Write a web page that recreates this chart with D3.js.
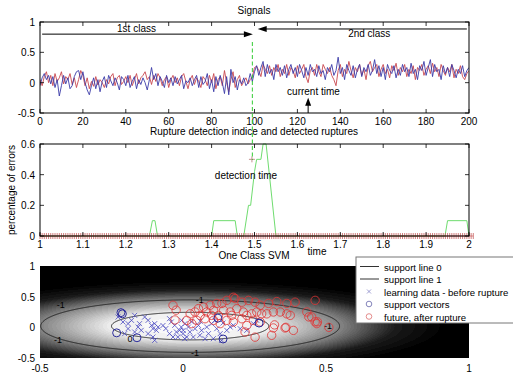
<!DOCTYPE html>
<html>
<head>
<meta charset="utf-8">
<script src="https://cdn.jsdelivr.net/npm/d3@7/dist/d3.min.js"></script>
<style>
	body { margin: 0; background: #fff; }
	text { font-family: "Liberation Sans", Arial, sans-serif; font-size: 10px; fill: #000; }
</style>
</head>
<body>
<svg id="chart" width="513" height="376"></svg>
<script>
// --- signals panel (one value per time step, 0..200)
const signalBlue = [
	-0.05, 0.08, 0.15, 0.05, 0.12, -0.02, 0.1, -0.08, 0.05, -0.22,
	-0.05, 0.12, -0.02, 0.08, -0.1, -0.05, 0.1, 0.18, 0.2, 0.05,
	0.18, 0.0, -0.12, -0.2, -0.05, 0.08, -0.1, 0.05, -0.15, 0.02,
	0.1, -0.08, 0.12, 0.03, -0.05, 0.08, 0.0, -0.12, 0.1, 0.05,
	-0.05, 0.12, -0.08, 0.02, 0.1, -0.1, 0.05, -0.03, 0.08, 0.0,
	-0.12, 0.05, 0.25, 0.05, 0.15, -0.05, 0.1, 0.02, -0.08, 0.12,
	0.0, 0.08, -0.05, 0.1, -0.02, 0.05, 0.12, -0.1, 0.03, 0.0,
	0.08, -0.05, 0.05, 0.12, -0.08, 0.1, -0.03, 0.02, 0.15, -0.1,
	0.05, -0.15, 0.1, -0.05, 0.12, 0.0, -0.18, 0.1, -0.2, 0.22,
	0.0, 0.1, -0.12, 0.05, -0.02, 0.08, -0.05, 0.0, 0.15, 0.02,
	0.18, 0.28, 0.12, 0.25, 0.35, 0.1, 0.3, 0.15, 0.22, 0.05,
	0.3, 0.18, 0.25, 0.12, 0.28, 0.08, 0.22, 0.3, 0.15, 0.25,
	0.1, 0.3, 0.2, 0.08, 0.25, 0.12, 0.3, 0.18, 0.22, 0.1,
	0.28, 0.15, 0.2, 0.05, 0.25, 0.18, 0.3, 0.12, 0.2, 0.42,
	0.15, 0.25, 0.05, 0.3, 0.2, 0.12, 0.28, 0.08, 0.22, 0.3,
	0.1, 0.25, 0.18, 0.3, 0.12, 0.2, 0.38, 0.15, 0.28, 0.1,
	0.25, 0.05, 0.3, 0.2, 0.15, 0.28, 0.08, 0.22, 0.12, 0.3,
	0.18, 0.25, 0.1, 0.32, 0.15, 0.22, 0.05, 0.28, 0.2, 0.35,
	0.12, 0.25, 0.38, 0.1, 0.3, 0.18, 0.22, 0.05, 0.28, 0.15,
	0.25, 0.1, 0.3, 0.2, 0.08, 0.22, 0.15, 0.28, 0.1, 0.2, 0.25
];
const signalRed = [
	0.05, -0.05, 0.1, 0.18, 0.0, 0.12, -0.05, 0.15, 0.02, 0.08,
	0.18, -0.02, 0.1, 0.05, 0.15, -0.03, 0.08, -0.08, 0.05, 0.2,
	0.12, -0.05, 0.08, -0.1, 0.02, -0.06, 0.1, -0.04, 0.05, 0.0,
	-0.08, 0.05, -0.02, 0.1, 0.15, -0.05, 0.08, 0.12, -0.03, 0.02,
	0.1, 0.0, 0.12, -0.05, 0.05, 0.15, -0.02, 0.08, 0.12, 0.18,
	0.05, 0.1, -0.03, 0.12, 0.02, 0.15, 0.08, -0.05, 0.05, 0.1,
	-0.08, 0.05, 0.12, 0.0, 0.08, -0.05, 0.1, 0.15, 0.02, -0.1,
	0.05, 0.12, -0.03, 0.08, 0.02, -0.08, 0.1, 0.05, -0.05, 0.12,
	0.0, 0.15, -0.1, 0.05, 0.1, -0.05, 0.2, 0.0, -0.15, 0.05,
	0.18, -0.08, 0.05, 0.12, -0.05, 0.02, 0.08, -0.02, 0.05, 0.1,
	0.25, 0.27, 0.2, 0.1, 0.3, 0.22, 0.15, 0.28, 0.12, 0.25,
	0.18, 0.3, 0.1, 0.22, 0.15, 0.3, 0.12, 0.25, 0.2, 0.08,
	0.28, 0.15, 0.22, 0.3, 0.1, 0.0, 0.2, 0.25, 0.12, 0.3,
	0.18, 0.1, 0.3, 0.22, 0.15, 0.25, 0.12, 0.05, -0.05, 0.2,
	0.3, 0.1, 0.22, 0.15, 0.35, 0.2, 0.08, 0.25, 0.18, 0.3,
	0.12, 0.22, 0.05, 0.28, 0.35, 0.18, 0.25, 0.3, 0.1, 0.22,
	0.3, 0.15, 0.22, 0.08, 0.28, 0.2, 0.32, 0.12, 0.25, 0.18,
	0.3, 0.1, 0.22, 0.15, 0.28, 0.05, 0.25, 0.2, 0.3, 0.12,
	0.22, 0.28, 0.15, 0.32, 0.18, 0.25, 0.1, 0.3, 0.2, 0.12,
	0.25, 0.18, 0.3, 0.08, 0.22, 0.15, 0.28, 0.1, 0.05, 0.15, 0.2
];
const signalTicksX = [0, 20, 40, 60, 80, 100, 120, 140, 160, 180, 200];
const signalTicksY = [-0.5, 0, 0.5, 1];
const ruptureTime = 99;      // green dashed line (signal time)
const currentTime = 125;

// --- rupture detection panel
const errorCurve = [
	[1, 0], [1.255, 0], [1.262, 0.1], [1.268, 0.1], [1.274, 0],
	[1.40, 0], [1.405, 0.1], [1.455, 0.1], [1.46, 0], [1.475, 0],
	[1.486, 0.2], [1.491, 0.2], [1.50, 0.42], [1.505, 0.5], [1.515, 0.5],
	[1.52, 0.6], [1.527, 0.6], [1.55, 0], [1.944, 0], [1.95, 0.1],
	[1.995, 0.1], [2.0, 0]
];
const detectionPoint = [1.494, 0.5];
const errorTicksX = [1, 1.1, 1.2, 1.3, 1.4, 1.5, 1.6, 1.7, 1.8, 1.9, 2];
const errorTicksY = [0, 0.2, 0.4, 0.6];

// --- one class SVM panel
const learningData = [
	[-0.227, 0.168], [-0.21, 0.087], [-0.192, 0.06], [-0.169, 0.195], [-0.18, 0.114],
	[-0.152, 0.06], [-0.134, 0.168], [-0.122, 0.114], [-0.11, 0.032], [-0.105, -0.022],
	[-0.093, -0.049], [-0.087, 0.005], [-0.099, 0.06], [-0.157, 0.005], [-0.146, -0.049],
	[-0.169, -0.076], [-0.192, -0.022], [-0.122, -0.103], [-0.105, -0.158], [-0.204, -0.103],
	[-0.047, 0.141], [-0.041, 0.087], [-0.029, 0.032], [-0.023, -0.076], [-0.012, -0.049],
	[-0.006, 0.005], [0.0, -0.103], [-0.018, -0.158], [0.006, -0.185], [-0.035, -0.158],
	[-0.047, -0.103], [-0.099, -0.212], [-0.005, 0.114], [0.007, 0.06], [0.019, 0.005],
	[0.001, -0.049], [0.024, -0.076], [0.042, -0.022], [0.054, 0.032], [0.065, -0.049],
	[0.083, 0.005], [0.1, 0.06], [0.112, 0.114], [0.118, -0.022], [0.089, -0.103],
	[0.059, -0.13], [0.036, -0.158], [0.013, -0.158], [0.13, -0.103], [0.153, -0.049],
	[0.165, 0.005], [0.176, 0.032], [0.2, -0.022], [0.223, -0.049], [0.246, 0.06],
	[0.258, 0.114], [0.135, -0.212], [0.077, -0.185], [0.106, -0.185], [-0.07, 0.03],
	[0.03, 0.09], [0.14, 0.07], [-0.06, -0.02], [0.06, 0.1]
];
const supportVectors = [
	[-0.217, 0.24], [-0.212, 0.22], [-0.232, -0.09], [-0.161, -0.17],
	[0.14, -0.19], [0.266, 0.07], [0.122, 0.15]
];
const futureData = [
	[0.462, 0.44], [0.433, 0.25], [0.45, 0.17], [0.462, 0.09], [0.468, 0.06],
	[0.392, 0.41], [0.363, 0.39], [0.328, 0.42], [0.299, 0.39], [0.27, 0.36],
	[0.252, 0.41], [0.229, 0.44], [0.206, 0.41], [0.182, 0.47], [0.176, 0.49],
	[0.153, 0.44], [0.136, 0.39], [0.118, 0.39], [0.095, 0.36], [0.072, 0.33],
	[0.054, 0.305], [0.042, 0.25], [0.025, 0.22], [0.06, 0.195], [0.083, 0.25],
	[0.107, 0.277], [0.142, 0.277], [0.165, 0.25], [0.188, 0.304], [0.211, 0.25],
	[0.223, 0.195], [0.24, 0.22], [0.258, 0.25], [0.275, 0.22], [0.293, 0.22],
	[0.316, 0.25], [0.34, 0.25], [0.363, 0.22], [0.375, 0.195], [0.316, -0.01],
	[0.357, -0.01], [0.386, -0.05], [0.252, -0.16], [0.217, -0.076], [0.223, 0.03],
	[0.176, 0.087], [0.153, 0.114], [0.13, 0.06], [0.107, 0.114], [0.077, 0.14],
	[0.048, 0.114], [0.031, 0.06], [0.013, 0.114], [0.27, 0.087], [0.246, 0.114],
	[0.206, 0.14], [0.17, 0.195], [0.124, 0.195], [0.1, 0.195], [-0.035, 0.36],
	[-0.024, 0.28], [-0.028, 0.12], [0.44, 0.17], [0.47, 0.09], [0.51, 0.0],
	[0.32, 0.04], [0.36, 0.0], [0.31, -0.13]
];
const contourLabels = [
	[-0.427, 0.38, '-1'], [-0.437, -0.19, '-1'], [0.059, 0.46, '-1'],
	[0.042, -0.40, '-1'], [0.507, 0.04, '-1'], [-0.185, -0.175, '0']
];
const svmTicks = [-0.5, 0, 0.5, 1];
const svmTicksY = [-0.5, 0, 0.5, 1];
const legendItems = ['support line 0', 'support line 1', 'learning data - before rupture', 'support vectors', 'future, after rupture'];

// kernel decision field (elliptic gaussian fitted to the picture)
const fieldCenter = [0.025, 0.02];
const fieldAxes = [0.275, 0.225];

const svg = d3.select('#chart');
const tick = 4;

function frame(g, x, y, xTicks, yTicks, fmtX, fmtY) {
	const [x0, x1] = x.range();
	const [y0, y1] = y.range(); // bottom, top
	g.append('rect')
		.attr('x', x0).attr('y', y1)
		.attr('width', x1 - x0).attr('height', y0 - y1)
		.attr('fill', 'none').attr('stroke', '#000').attr('stroke-width', 1);
	const tg = g.append('g').attr('stroke', '#000').attr('stroke-width', 0.8);
	xTicks.forEach(t => {
		tg.append('line').attr('x1', x(t)).attr('x2', x(t)).attr('y1', y0).attr('y2', y0 - tick);
		tg.append('line').attr('x1', x(t)).attr('x2', x(t)).attr('y1', y1).attr('y2', y1 + tick);
	});
	yTicks.forEach(t => {
		tg.append('line').attr('x1', x0).attr('x2', x0 + tick).attr('y1', y(t)).attr('y2', y(t));
		tg.append('line').attr('x1', x1).attr('x2', x1 - tick).attr('y1', y(t)).attr('y2', y(t));
	});
	g.selectAll('.xl').data(xTicks).enter().append('text')
		.attr('x', d => x(d)).attr('y', y0 + 12)
		.attr('text-anchor', 'middle').text(fmtX);
	g.selectAll('.yl').data(yTicks).enter().append('text')
		.attr('x', x0 - 5).attr('y', d => y(d) + 4)
		.attr('text-anchor', 'end').text(fmtY);
}

function arrowHead(g, tipX, tipY, dir) {
	// dir: 1 right, -1 left, 'up'
	let pts;
	if (dir === 'up') pts = [[tipX, tipY], [tipX - 3, tipY + 8], [tipX + 3, tipY + 8]];
	else pts = [[tipX, tipY], [tipX - dir * 9, tipY - 3], [tipX - dir * 9, tipY + 3]];
	g.append('path').attr('d', 'M' + pts.join('L') + 'Z').attr('fill', '#000');
}

// ================= panel 1: signals
const x1 = d3.scaleLinear([0, 200], [40, 469]);
const y1 = d3.scaleLinear([-0.5, 1], [113, 22]);
const p1 = svg.append('g');
svg.append('clipPath').attr('id', 'c1').append('rect').attr('x', 40).attr('y', 22).attr('width', 429).attr('height', 91);

const line1 = d3.line().x((d, i) => x1(i)).y(d => y1(d));
p1.append('path').attr('clip-path', 'url(#c1)').attr('d', line1(signalRed))
	.attr('fill', 'none').attr('stroke', '#c8474f').attr('stroke-width', 0.9);
p1.append('path').attr('clip-path', 'url(#c1)').attr('d', line1(signalBlue))
	.attr('fill', 'none').attr('stroke', '#3b3ba8').attr('stroke-width', 0.9);

frame(p1, x1, y1, signalTicksX, signalTicksY, d => d, d => d);

p1.append('text').attr('x', 254).attr('y', 14).attr('text-anchor', 'middle').text('Signals');

// class arrows
p1.append('line').attr('x1', x1(1)).attr('x2', x1(ruptureTime) - 6).attr('y1', y1(0.8)).attr('y2', y1(0.8)).attr('stroke', '#000');
arrowHead(p1, x1(ruptureTime) + 0.5, y1(0.8), 1);
p1.append('text').attr('x', x1(45)).attr('y', y1(0.84)).attr('text-anchor', 'middle').text('1st class');
p1.append('line').attr('x1', x1(199)).attr('x2', x1(101.5) + 6).attr('y1', y1(0.885)).attr('y2', y1(0.885)).attr('stroke', '#000');
arrowHead(p1, x1(101.5), y1(0.885), -1);
p1.append('text').attr('x', x1(153.5)).attr('y', y1(0.75)).attr('text-anchor', 'middle').text('2nd class');

// current time
p1.append('line').attr('x1', x1(currentTime)).attr('x2', x1(currentTime)).attr('y1', y1(-0.5)).attr('y2', y1(-0.3)).attr('stroke', '#000');
arrowHead(p1, x1(currentTime), y1(-0.25), 'up');
p1.append('text').attr('x', x1(127.5)).attr('y', y1(-0.2)).attr('text-anchor', 'middle').text('current time');

// ================= panel 2: rupture detection
const x2 = d3.scaleLinear([1, 2], [40, 469]);
const y2 = d3.scaleLinear([0, 0.6], [236, 144]);
const p2 = svg.append('g');

p2.append('path').attr('d', d3.line().x(d => x2(d[0])).y(d => y2(d[1]))(errorCurve))
	.attr('fill', 'none').attr('stroke', '#6fdc6f').attr('stroke-width', 1);

const sampleTimes = d3.range(1, 2.0101, 0.005);
p2.append('line').attr('x1', x2(1)).attr('x2', x2(2.01)).attr('y1', y2(0)).attr('y2', y2(0)).attr('stroke', '#c86060').attr('stroke-width', 0.8);
p2.append('path')
	.attr('d', sampleTimes.map(t => `M${x2(t)},${y2(0) - 3}V${y2(0) + 3}`).join(''))
	.attr('stroke', '#c86060').attr('stroke-width', 0.8);

frame(p2, x2, y2, errorTicksX, errorTicksY, d => d, d => d);

p2.append('path')
	.attr('d', `M${x2(detectionPoint[0]) - 3},${y2(detectionPoint[1])}h6M${x2(detectionPoint[0])},${y2(detectionPoint[1]) - 3}v6`)
	.attr('stroke', '#c49090').attr('stroke-width', 1);

p2.append('text').attr('x', 254).attr('y', 135).attr('text-anchor', 'middle').text('Rupture detection indice and detected ruptures');
p2.append('text').attr('x', 246).attr('y', y2(0.4) + 4).attr('text-anchor', 'middle').text('detection time');
p2.append('text').attr('x', 317).attr('y', 255).attr('text-anchor', 'middle').text('time');
p2.append('text').attr('transform', 'translate(15,190) rotate(-90)').attr('text-anchor', 'middle').text('percentage of errors');

// dashed rupture line across the two panels
svg.append('line').attr('x1', x1(ruptureTime)).attr('x2', x1(ruptureTime)).attr('y1', 42).attr('y2', 160)
	.attr('stroke', '#33cc33').attr('stroke-width', 1).attr('stroke-dasharray', '4,2.5');

// ================= panel 3: one class SVM
const x3 = d3.scaleLinear([-0.5, 1], [40, 469]);
const y3 = d3.scaleLinear([-0.5, 1], [358, 266]);
const p3 = svg.append('g');
const nx = 429, ny = 92;

function decision(xd, yd) {
	const dx = (xd - fieldCenter[0]) / fieldAxes[0];
	const dy = (yd - fieldCenter[1]) / fieldAxes[1];
	return (1 - Math.sqrt(dx * dx + dy * dy)) / 0.9;
}
const grayOf = d3.scaleLinear().domain([-2.5, -1.8, -1, 0, 1.12]).range([0, 0.1, 0.52, 0.94, 1]).clamp(true);

const values = new Float64Array(nx * ny);
const canvas = document.createElement('canvas');
canvas.width = nx; canvas.height = ny;
const ctx = canvas.getContext('2d');
const img = ctx.createImageData(nx, ny);
for (let j = 0; j < ny; j++) {
	for (let i = 0; i < nx; i++) {
		const v = decision(x3.invert(40 + i + 0.5), y3.invert(266 + j + 0.5));
		values[i + j * nx] = v;
		const g = Math.round(Math.round(grayOf(v) * 40) / 40 * 255);
		const k = (i + j * nx) * 4;
		img.data[k] = img.data[k + 1] = img.data[k + 2] = g;
		img.data[k + 3] = 255;
	}
}
ctx.putImageData(img, 0, 0);
p3.append('image').attr('x', 40).attr('y', 266).attr('width', nx).attr('height', ny)
	.attr('preserveAspectRatio', 'none').attr('href', canvas.toDataURL());

const contours = d3.contours().size([nx, ny]).thresholds([-1, 0])(values);
p3.selectAll('.ct').data(contours).enter().append('path')
	.attr('d', d3.geoPath(d3.geoIdentity().translate([40, 266])))
	.attr('fill', 'none').attr('stroke', '#1a1a1a').attr('stroke-width', 0.9);

p3.selectAll('.cl').data(contourLabels).enter().append('text')
	.attr('x', d => x3(d[0])).attr('y', d => y3(d[1]) + 4)
	.attr('text-anchor', 'middle').style('font-size', '9px').text(d => d[2]);

p3.append('g').selectAll('path').data(learningData).enter().append('path')
	.attr('d', d => `M${x3(d[0]) - 2.5},${y3(d[1]) - 2.5}l5,5m0,-5l-5,5`)
	.attr('stroke', '#4848c0').attr('stroke-width', 0.8);
p3.append('g').selectAll('circle').data(futureData).enter().append('circle')
	.attr('cx', d => x3(d[0])).attr('cy', d => y3(d[1])).attr('r', 4.2)
	.attr('fill', 'none').attr('stroke', '#e03434').attr('stroke-width', 0.8);
p3.append('g').selectAll('circle').data(supportVectors).enter().append('circle')
	.attr('cx', d => x3(d[0])).attr('cy', d => y3(d[1])).attr('r', 4)
	.attr('fill', 'none').attr('stroke', '#2a2a9a').attr('stroke-width', 1);

p3.selectAll('.sx').data(svmTicks).enter().append('text')
	.attr('x', d => x3(d)).attr('y', 372).attr('text-anchor', 'middle').text(d => d);
p3.selectAll('.sy').data(svmTicksY).enter().append('text')
	.attr('x', 35).attr('y', d => y3(d) + 4).attr('text-anchor', 'end').text(d => d);
p3.append('text').attr('x', 254).attr('y', 258.5).attr('text-anchor', 'middle').text('One Class SVM');

// legend
const lg = svg.append('g').attr('transform', 'translate(356,257)');
lg.append('rect').attr('width', 170).attr('height', 66).attr('fill', '#fff').attr('stroke', '#777').attr('stroke-width', 1);
legendItems.forEach((name, i) => {
	const yy = 9.5 + i * 12.5;
	if (i < 2) {
		lg.append('line').attr('x1', 4).attr('x2', 23).attr('y1', yy).attr('y2', yy).attr('stroke', '#333');
	} else if (i === 2) {
		lg.append('path').attr('d', `M11,${yy - 2}l4,4m0,-4l-4,4`).attr('stroke', '#8888c8').attr('stroke-width', 0.8);
	} else {
		lg.append('circle').attr('cx', 13).attr('cy', yy).attr('r', 2.8).attr('fill', 'none')
			.attr('stroke', i === 3 ? '#6666aa' : '#dd7070').attr('stroke-width', 0.8);
	}
	lg.append('text').attr('x', 28).attr('y', yy + 4).style('font-size', '9.6px').text(name);
});
</script>
</body>
</html>
